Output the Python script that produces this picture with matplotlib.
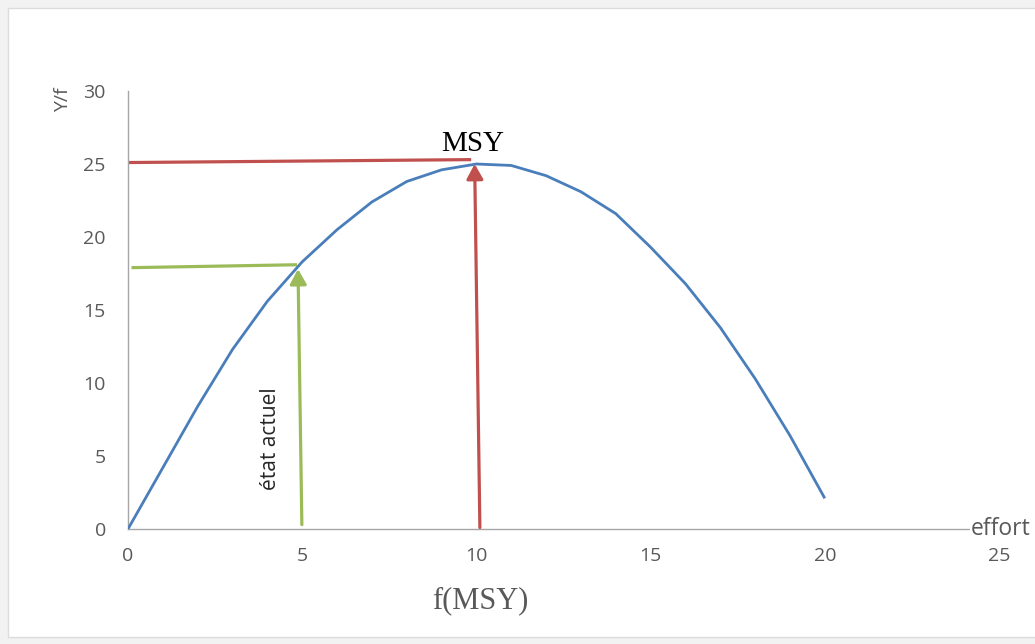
"""
Courbe Y/f en fonction de l'effort, avec MSY et état actuel.
"""

import matplotlib
matplotlib.use("Agg")
import matplotlib.pyplot as plt
from matplotlib.patches import Rectangle

# ── data ───────────────────────────────────────────────────────────────────────
EFFORT = [0, 1, 2, 3, 4, 5, 6, 7, 8, 9, 10,
          11, 12, 13, 14, 15, 16, 17, 18, 19, 20]
Y_PER_F = [0.0, 4.2, 8.4, 12.3, 15.6, 18.3, 20.5, 22.4, 23.8, 24.6, 25.0,
           24.9, 24.2, 23.1, 21.6, 19.3, 16.8, 13.8, 10.3, 6.4, 2.1]

X_TICKS = [0, 5, 10, 15, 20, 25]
Y_TICKS = [0, 5, 10, 15, 20, 25, 30]

# arrows: (x_start, y_start) -> (x_end, y_end)
MSY_H = [(0.0, 25.1), (9.85, 25.3)]
MSY_V = [(10.1, 0.1), (9.95, 25.0)]
NOW_H = [(0.1, 17.9), (4.85, 18.1)]
NOW_V = [(4.99, 0.3), (4.88, 17.8)]

RED = "#C0504D"
GREEN = "#9BBB59"
BLUE = "#4A7EBB"
GREY = "#595959"

W, H = 1035, 644


def main():
    fig = plt.figure(figsize=(W / 100, H / 100), dpi=100)
    fig.patch.set_facecolor("#f2f2f2")
    panel = Rectangle((8 / W, 1 - 637 / H), 1, (637 - 8) / H,
                      transform=fig.transFigure, facecolor="white",
                      edgecolor="#dcdcdc", linewidth=1.0, zorder=-10)
    fig.patches.append(panel)

    ax = fig.add_axes([128 / W, 1 - 529 / H, (999 - 128) / W, (529 - 91) / H])
    ax.set_facecolor("none")
    ax.set_zorder(5)

    ax.plot(EFFORT, Y_PER_F, color=BLUE, linewidth=2.0, zorder=3,
            solid_capstyle="butt", solid_joinstyle="round")

    # horizontal guide lines
    for seg, col in [(MSY_H, RED), (NOW_H, GREEN)]:
        (x0, y0), (x1, y1) = seg
        ax.plot([x0, x1], [y0, y1], color=col, linewidth=2.3, zorder=2,
                solid_capstyle="butt")

    # vertical arrows
    for seg, col in [(MSY_V, RED), (NOW_V, GREEN)]:
        (x0, y0), (x1, y1) = seg
        ax.annotate("", xy=(x1, y1), xytext=(x0, y0),
                    arrowprops=dict(arrowstyle="-|>,head_length=0.9,head_width=0.5",
                                    color=col, lw=2.3, shrinkA=0, shrinkB=0),
                    zorder=4)

    ax.set_xlim(0, 25)
    ax.set_ylim(0, 30)
    ax.set_xticks(X_TICKS)
    ax.set_yticks(Y_TICKS)
    ax.tick_params(length=0, labelsize=14, labelcolor=GREY)
    ax.tick_params(axis="y", pad=16)
    ax.tick_params(axis="x", pad=13)
    for lab in ax.get_xticklabels() + ax.get_yticklabels():
        lab.set_fontfamily("Open Sans")

    for spine in ["top", "right"]:
        ax.spines[spine].set_visible(False)
    ax.spines["left"].set_color("#a6a6a6")
    ax.spines["bottom"].set_color("#a6a6a6")
    ax.spines["left"].set_linewidth(1.0)
    ax.spines["bottom"].set_linewidth(1.0)

    # ── texts ──────────────────────────────────────────────────────────────────
    ax.text(-0.075, 0.98, "Y/f", transform=ax.transAxes, rotation=90,
            ha="center", va="center", fontsize=14, color=GREY,
            family="Open Sans")
    ax.text(25.05, 0, "effort", ha="center", va="center", fontsize=16.5,
            color=GREY, family="Open Sans", zorder=6,
            bbox=dict(facecolor="white", edgecolor="none", pad=0.5))
    ax.text(9.9, 26.4, "MSY", ha="center", va="center", fontsize=21,
            color="black", family="Liberation Serif", zorder=5)
    ax.text(10.1, -4.9, "f(MSY)", ha="center", va="center", fontsize=22,
            color=GREY, family="Liberation Serif", clip_on=False)
    ax.text(4.1, 6.2, "état actuel", rotation=90, ha="center", va="center",
            fontsize=15, color="#262626", family="Open Sans")

    fig.savefig("out.png", dpi=100, facecolor=fig.get_facecolor())


if __name__ == "__main__":
    main()
